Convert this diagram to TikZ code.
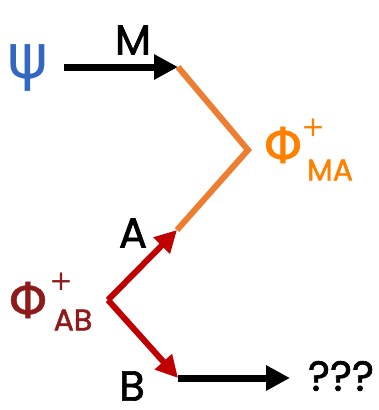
\documentclass[tikz,border=0pt]{standalone}
\usepackage{fontspec}
\setmainfont{DejaVu Sans}
\newfontfamily\latinf[FakeBold=1.6]{Poppins}
\newfontfamily\greekf[FakeBold=0.8]{DejaVu Sans}
\newfontfamily\psif{DejaVu Sans}
\usetikzlibrary{arrows.meta}
\definecolor{psiblue}{HTML}{3467C2}
\definecolor{lineorange}{HTML}{ED7D31}
\definecolor{txtorange}{HTML}{FF8000}
\definecolor{arrred}{HTML}{C00000}
\definecolor{txtred}{HTML}{8E1B1B}
\tikzset{
  lbl/.style={inner sep=0pt, font=\latinf\fontsize{42}{42}\selectfont},
  greek/.style={inner sep=0pt, font=\greekf\fontsize{50}{50}\selectfont},
  subs/.style={inner sep=0pt, font=\latinf\fontsize{30}{30}\selectfont},
  sups/.style={inner sep=0pt, font=\fontsize{28}{28}\selectfont},
  blackarr/.style={line width=7pt, black, -{Triangle[length=24pt,width=24pt]}},
  redarr/.style={line width=6pt, arrred, -{Triangle[length=22pt,width=22pt]}},
  orangeline/.style={line width=6pt, lineorange, line join=miter},
}
\begin{document}
\begin{tikzpicture}[x=1pt,y=-1pt]
\useasboundingbox (0,0) rectangle (378,410);
% coordinates
\coordinate (m0) at (64,67);
\coordinate (m1) at (178,67);
\coordinate (ma) at (248,150);
\coordinate (a1) at (177,230);
\coordinate (ab) at (108,300);
\coordinate (b1) at (178,378);
\coordinate (q0) at (290,378);
% texts
\node[inner sep=0pt, text=psiblue, font=\psif\fontsize{62}{62}\selectfont] (psi) at (28,68) {ψ};
\node[lbl] (M) at (133,40) {M};
\node[greek, text=txtorange] (phima) at (283,145) {Φ};
\node[sups, text=txtorange] (phimasup) at (313,128) {+};
\node[subs, text=txtorange] (phimasub) at (330,170) {MA};
\node[lbl] (A) at (133,233) {A};
\node[greek, text=txtred] (phiab) at (28,300) {Φ};
\node[sups, text=txtred] (phiabsup) at (61,282) {+};
\node[subs, text=txtred] (phiabsub) at (73,320) {AB};
\node[lbl] (B) at (132,386) {B};
\node[lbl] (q) at (341,376) {???};
% lines
\draw[orangeline] (m1) -- (ma) -- (a1);
\draw[blackarr] (m0) -- (m1);
\draw[redarr] (ab) -- (a1);
\draw[redarr] (ab) -- (b1);
\draw[blackarr] (b1) -- (q0);
\end{tikzpicture}
\end{document}
